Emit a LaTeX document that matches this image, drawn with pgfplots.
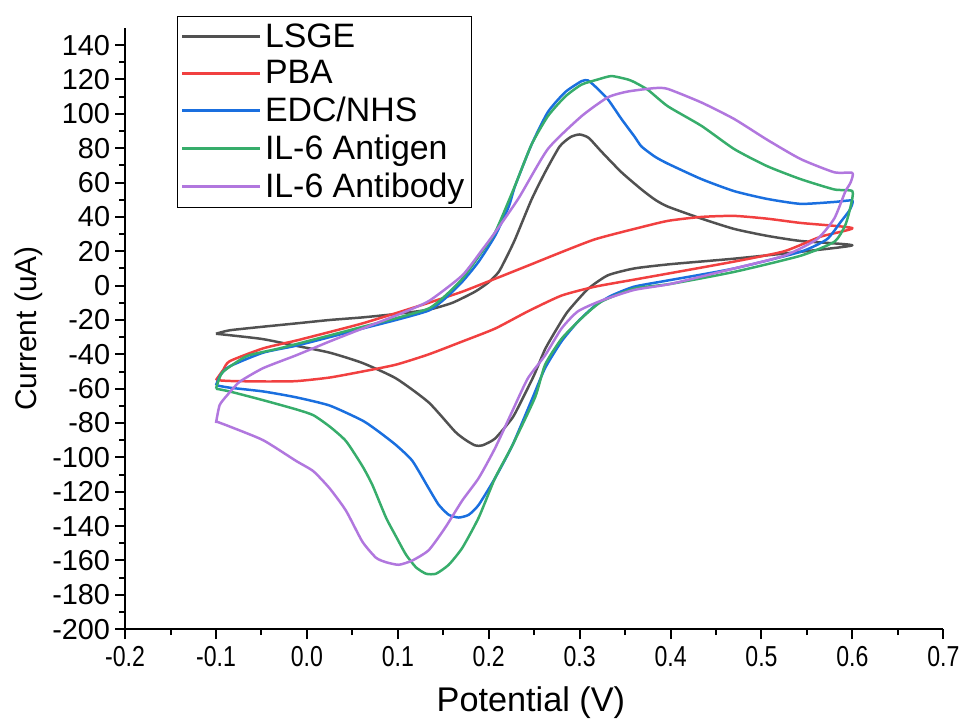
\documentclass[border=0pt]{standalone}
\usepackage{fontspec}
\setmainfont{Liberation Sans}
\newfontfamily\narrowfont[FakeStretch=0.8]{Liberation Sans}
\usepackage{pgfplots}
\pgfplotsset{compat=1.18}

\definecolor{cgrey}{HTML}{515151}
\definecolor{cred}{HTML}{F14040}
\definecolor{cblue}{HTML}{1A6FDF}
\definecolor{cgreen}{HTML}{37AD6B}
\definecolor{cpurple}{HTML}{B177DE}

\begin{document}
\begin{tikzpicture}
\begin{axis}[
    scale only axis,
    width=411pt,
    height=302pt,
    xmin=-0.2, xmax=0.7,
    ymin=-200, ymax=150,
    axis lines=left,
    axis line style={-, line width=1pt, black},
    xtick={-0.2,-0.1,...,0.71},
    ytick={-200,-180,...,140},
    minor x tick num=1,
    minor y tick num=1,
    tick align=outside,
    major tick length=5pt,
    minor tick length=3pt,
    tick style={line width=1pt, black},
    /pgf/number format/assume math mode=true,
    x tick label style={font=\fontsize{14.5}{16}\selectfont\narrowfont,
        /pgf/number format/.cd, fixed, fixed zerofill, precision=1},
    y tick label style={font=\fontsize{14.5}{16}\selectfont, xshift=1pt},
    xlabel={Potential (V)},
    ylabel={Current (uA)},
    xlabel style={font=\fontsize{17.2}{19}\selectfont,
        at={(axis description cs:0.496,-0.122)}, anchor=center},
    ylabel style={font=\fontsize{15}{17}\selectfont,
        at={(axis description cs:-0.118,0.5)}, anchor=center},
    legend style={at={(axis description cs:0.064,1.02)}, anchor=north west,
        draw=black, line width=0.5pt, font=\fontsize{17}{19}\selectfont,
        inner xsep=1.5pt, inner ysep=1.5pt, row sep=1.2pt},
    legend cell align=left,
    legend image code/.code={\draw[#1] (0pt,0pt) -- (39pt,0pt);},
    every axis plot/.append style={line width=1.25pt, line join=round,
        smooth, tension=0.35},
]
\addplot[cgrey] coordinates {
(-0.1,-28) (-0.085,-26) (-0.05,-24) (-0.012,-22) (0.025,-20) (0.061,-18.5) (0.098,-16.5)
(0.134,-14) (0.16,-10) (0.185,-3.5) (0.2,2) (0.211,8) (0.22,17) (0.229,27) (0.247,50)
(0.262,66) (0.278,81) (0.29,86.5) (0.3,88) (0.31,86) (0.324,78) (0.346,66) (0.368,56)
(0.383,50) (0.397,46) (0.434,39) (0.47,33) (0.506,29) (0.543,26) (0.6,23.5)
(0.543,19.7) (0.47,15.7) (0.4,12.5) (0.36,10) (0.331,6) (0.309,-2) (0.287,-15)
(0.275,-25) (0.262,-37) (0.25,-52) (0.237,-66) (0.226,-77) (0.207,-89) (0.193,-93)
(0.185,-93) (0.175,-90) (0.163,-85) (0.134,-68) (0.098,-54) (0.061,-45) (0.025,-39)
(-0.012,-35) (-0.05,-31) (-0.1,-28)
};
\addlegendentry{LSGE}
\addplot[cred] coordinates {
(-0.1,-55) (-0.092,-49) (-0.085,-44) (-0.048,-36.5) (-0.012,-32) (0.025,-27) (0.061,-22)
(0.098,-16) (0.134,-10) (0.171,-3.5) (0.207,4) (0.243,11.6) (0.28,19.5) (0.317,27)
(0.36,33) (0.397,37.7) (0.434,40) (0.47,40.6) (0.506,39) (0.543,36.5) (0.6,33.5)
(0.565,28.5) (0.525,20) (0.47,14) (0.397,7) (0.36,3.5) (0.317,-0.6) (0.28,-5.8)
(0.243,-15) (0.207,-25) (0.171,-32.5) (0.134,-40) (0.098,-46) (0.061,-50) (0.025,-53.5)
(-0.012,-55.6) (-0.048,-55.8) (-0.085,-55.5) (-0.1,-55)
};
\addlegendentry{PBA}
\addplot[cblue] coordinates {
(-0.1,-58) (-0.095,-52) (-0.085,-47) (-0.048,-39) (-0.012,-35) (0.025,-30) (0.061,-25)
(0.098,-20) (0.134,-14.5) (0.152,-7.5) (0.171,2.3) (0.189,14) (0.207,29) (0.222,46)
(0.229,58) (0.247,82) (0.265,101) (0.284,112.6) (0.302,119) (0.309,119.5) (0.317,116)
(0.331,108.5) (0.346,97) (0.36,87) (0.368,81) (0.383,75) (0.397,71) (0.434,62) (0.47,55)
(0.506,50.5) (0.543,47.6) (0.58,48.7) (0.6,49.5)
(0.597,44) (0.587,37) (0.572,27) (0.543,19.7) (0.47,10) (0.397,3) (0.36,-0.6)
(0.335,-5.8) (0.317,-11.6) (0.298,-21) (0.28,-32.5) (0.262,-48) (0.248,-65.6)
(0.226,-93) (0.207,-112) (0.189,-127.6) (0.178,-133.4) (0.167,-135) (0.156,-133.4)
(0.145,-127.6) (0.134,-118) (0.116,-102) (0.098,-92.8) (0.079,-85) (0.061,-78.5)
(0.025,-69.8) (-0.012,-65) (-0.048,-61.6) (-0.085,-59.4) (-0.1,-58)
};
\addlegendentry{EDC/NHS}
\addplot[cgreen] coordinates {
(-0.1,-60) (-0.097,-55) (-0.092,-50) (-0.066,-41) (-0.03,-36.5) (0.025,-29) (0.061,-24)
(0.098,-19) (0.134,-13.3) (0.152,-6) (0.171,4) (0.189,17) (0.207,31) (0.228,57)
(0.247,82) (0.265,98.6) (0.284,110) (0.302,117) (0.32,120) (0.335,122) (0.353,120)
(0.36,118.5) (0.375,114) (0.397,104.4) (0.434,93) (0.47,79.5) (0.506,69.6) (0.543,62)
(0.58,56) (0.6,55)
(0.598,46) (0.592,35) (0.58,25.5) (0.543,17.4) (0.47,8) (0.4,1) (0.36,-1.7)
(0.324,-9.3) (0.302,-19) (0.28,-31) (0.262,-46) (0.251,-65) (0.226,-93) (0.207,-112)
(0.189,-135) (0.171,-152.6) (0.156,-162.5) (0.142,-167.7) (0.131,-167.7) (0.12,-164)
(0.109,-156.6) (0.098,-146) (0.087,-135) (0.072,-116) (0.061,-105) (0.043,-90.5)
(0.025,-82) (0.007,-75.4) (-0.012,-72) (-0.048,-66.7) (-0.085,-61.6) (-0.1,-60)
};
\addlegendentry{IL-6 Antigen}
\addplot[cpurple] coordinates {
(-0.1,-80) (-0.096,-69.6) (-0.088,-64) (-0.074,-56) (-0.048,-48) (-0.012,-40.6)
(0.025,-32.5) (0.061,-25) (0.098,-17.4) (0.134,-9) (0.171,6) (0.193,21) (0.207,31)
(0.233,51) (0.265,79.5) (0.302,98.6) (0.331,109.6) (0.353,113) (0.383,115) (0.397,114.5)
(0.434,106.6) (0.47,97) (0.506,85) (0.543,73.7) (0.58,66) (0.6,65.6)
(0.598,60) (0.592,54.5) (0.58,39) (0.561,27) (0.525,17.4) (0.47,10) (0.4,1) (0.36,-2.5)
(0.324,-8.7) (0.298,-15) (0.28,-25) (0.262,-40.6) (0.243,-54) (0.226,-73) (0.207,-94.6)
(0.189,-112) (0.171,-125) (0.152,-141) (0.134,-154) (0.116,-160) (0.101,-162.5)
(0.087,-161) (0.076,-158.4) (0.061,-149) (0.043,-131) (0.025,-118) (0.007,-108)
(-0.012,-102) (-0.048,-90) (-0.085,-82) (-0.1,-79)
};
\addlegendentry{IL-6 Antibody}
\end{axis}
\path (current bounding box.north) ++(0,8pt);
\path (current bounding box.west) ++(-4pt,0);
\end{tikzpicture}
\end{document}
